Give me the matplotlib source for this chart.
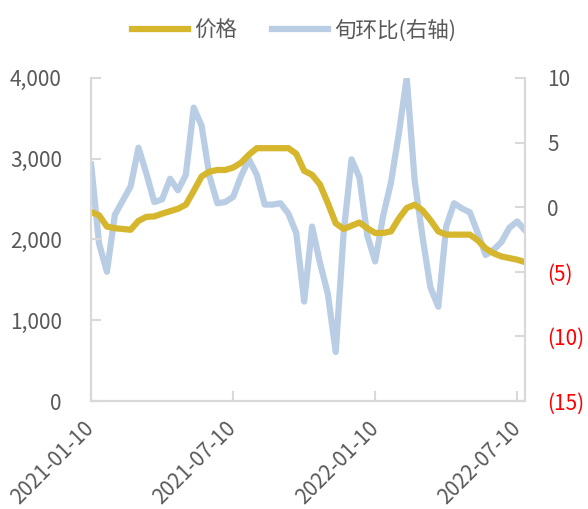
import matplotlib
matplotlib.use('Agg')
import matplotlib.pyplot as plt
import numpy as np

plt.rcParams['font.family'] = ['Noto Sans CJK SC', 'DejaVu Sans']

# 价格 (left axis), one point per 旬, 2021-01-10 .. 2022-07-20
price = [2340, 2300, 2160, 2140, 2130, 2120, 2230, 2280, 2285, 2320,
         2350, 2380, 2430, 2600, 2780, 2840, 2860, 2860, 2890, 2950,
         3050, 3130, 3130, 3130, 3130, 3130, 3060, 2850, 2800, 2680,
         2450, 2200, 2130, 2170, 2210, 2140, 2080, 2080, 2100, 2260,
         2390, 2430, 2360, 2240, 2100, 2060, 2060, 2060, 2060, 1990,
         1890, 1830, 1790, 1770, 1750, 1720]
# 旬环比 (right axis, %)
mom = [3.3, -2.8, -5.0, -0.6, 0.5, 1.6, 4.6, 2.6, 0.4, 0.6,
       2.2, 1.3, 2.5, 7.7, 6.3, 2.4, 0.3, 0.4, 0.8, 2.4,
       3.7, 2.5, 0.2, 0.2, 0.3, -0.5, -2.0, -7.3, -1.5, -4.3,
       -6.7, -11.2, -2.0, 3.7, 2.3, -2.2, -4.2, -0.7, 1.9, 5.7,
       10.0, 2.1, -2.3, -6.2, -7.7, -1.5, 0.3, -0.1, -0.4, -2.0,
       -3.7, -3.3, -2.7, -1.6, -1.1, -1.8]
tick_pos = [0, 18, 36, 54]
tick_labels = ['2021-01-10', '2021-07-10', '2022-01-10', '2022-07-10']

gold = '#D6B62C'
blue = '#B9CDE5'
grey = '#D9D9D9'
txt = '#595959'

x = np.arange(len(price))

fig = plt.figure(figsize=(5.88, 5.09), dpi=100)
ax = fig.add_axes([0.155, 0.212, 0.738, 0.635])
ax2 = ax.twinx()

l1, = ax.plot(x, price, color=gold, lw=4.5, solid_joinstyle='round', label='价格', zorder=2)
l2, = ax2.plot(x, mom, color=blue, lw=4.5, solid_joinstyle='round', label='旬环比(右轴)', zorder=3)
ax.set_zorder(ax2.get_zorder() + 1)
ax.patch.set_visible(False)

ax.set_xlim(0, len(price) - 1)
ax.set_ylim(0, 4000)
ax.set_yticks(range(0, 4001, 1000))
ax.set_yticklabels(['{:,}'.format(v) for v in range(0, 4001, 1000)])
ax2.set_ylim(-15, 10)
ax2.set_yticks(range(-15, 11, 5))
ax2.set_yticklabels(['({})'.format(-v) if v < 0 else str(v) for v in range(-15, 11, 5)])

ax.set_xticks(tick_pos)
ax.set_xticklabels(tick_labels, rotation=45, ha='right', va='center', rotation_mode='anchor')

for a in (ax, ax2):
    a.spines['top'].set_visible(False)
    for s in ('left', 'right', 'bottom'):
        a.spines[s].set_color(grey)
        a.spines[s].set_linewidth(1.5)
    a.tick_params(direction='in', length=7, width=1.5, color=grey, labelsize=15, labelcolor=txt)
ax.tick_params(axis='y', pad=21)
ax.tick_params(axis='x', pad=17)
ax2.tick_params(axis='y', pad=16)
for lab in ax2.get_yticklabels():
    if lab.get_text().startswith('('):
        lab.set_color('red')

fig.legend(handles=[l1, l2], loc='upper center', bbox_to_anchor=(0.5, 1.0), ncol=2,
           frameon=False, fontsize=15.5, labelcolor=txt, handlelength=2.6,
           handletextpad=0.3, columnspacing=1.6)

fig.savefig('out.png', dpi=100)
